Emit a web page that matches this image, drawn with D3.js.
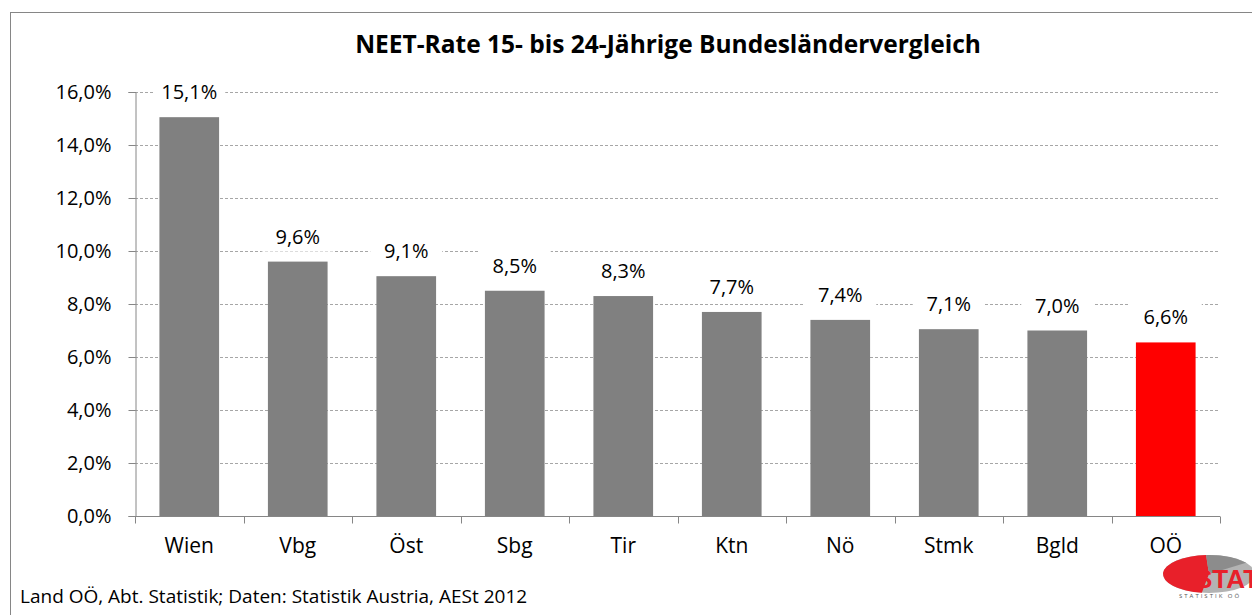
<!DOCTYPE html>
<html>
<head>
<meta charset="utf-8">
<script src="https://cdn.jsdelivr.net/npm/d3@7"></script>
<style>
  body { margin: 0; background: #fff; }
  svg { display: block; }
  text { font-family: "Open Sans", "Liberation Sans", sans-serif; fill: #000; }
</style>
</head>
<body>
<script>
// data
const regions = ["Wien", "Vbg", "Öst", "Sbg", "Tir", "Ktn", "Nö", "Stmk", "Bgld", "OÖ"];
const rates = [15.1, 9.6, 9.1, 8.5, 8.3, 7.7, 7.4, 7.1, 7.0, 6.6];
const rateBars = [15.05, 9.6, 9.05, 8.5, 8.3, 7.7, 7.4, 7.05, 7.0, 6.55];
const yTicks = [0, 2, 4, 6, 8, 10, 12, 14, 16];
const titleText = "NEET-Rate 15- bis 24-Jährige Bundesländervergleich";
const sourceText = "Land OÖ, Abt. Statistik; Daten: Statistik Austria, AESt 2012";

const W = 1252, H = 615;
const margin = {top: 92, right: 32, bottom: 100, left: 135};

const svg = d3.select("body").append("svg")
  .attr("width", W).attr("height", H);

// chart frame
svg.append("rect")
  .attr("x", 10.5).attr("y", 12.5)
  .attr("width", W + 20).attr("height", H + 20)
  .attr("fill", "none").attr("stroke", "#868686").attr("stroke-width", 1);

const x = d3.scaleBand().domain(regions).range([margin.left, W - margin.right]).paddingInner(0.45).paddingOuter(0.225);
const y = d3.scaleLinear().domain([0, 16]).range([516, margin.top]);
const fmt = v => d3.format(".1f")(v).replace(".", ",") + "%";

// gridlines
svg.append("g").selectAll("line").data(yTicks.slice(1)).enter().append("line")
  .attr("x1", margin.left).attr("x2", W - margin.right)
  .attr("y1", d => Math.round(y(d)) + 0.5).attr("y2", d => Math.round(y(d)) + 0.5)
  .attr("stroke", "#a6a6a6").attr("stroke-dasharray", "3,2").attr("stroke-width", 1);

// bars
svg.append("g").selectAll("rect").data(regions).enter().append("rect")
  .attr("x", d => x(d))
  .attr("y", (d, i) => y(rateBars[i]))
  .attr("width", x.bandwidth())
  .attr("height", (d, i) => y(0) - y(rateBars[i]))
  .attr("fill", d => d === "OÖ" ? "#ff0000" : "#808080");

// y axis
const yAxis = d3.axisLeft(y).tickValues(yTicks).tickSize(7).tickPadding(17)
  .tickFormat(d => fmt(d));
const gy = svg.append("g").attr("transform", "translate(" + (margin.left + 0.5) + ",0)").call(yAxis);
gy.select(".domain").attr("stroke", "#868686");
gy.selectAll(".tick line").attr("stroke", "#868686");
gy.selectAll(".tick text").style("font-size", "20px").attr("fill", "#000");

// x axis, ticks between categories
const step = x.step();
const gx = svg.append("g").attr("transform", "translate(0," + (Math.round(y(0)) + 0.5) + ")");
gx.append("line").attr("x1", margin.left).attr("x2", W - margin.right).attr("stroke", "#868686");
gx.selectAll(".tk").data(d3.range(regions.length + 1)).enter().append("line")
  .attr("x1", i => Math.round(margin.left + i * step) + 0.5)
  .attr("x2", i => Math.round(margin.left + i * step) + 0.5)
  .attr("y1", 0).attr("y2", 7).attr("stroke", "#868686");
gx.selectAll("text").data(regions).enter().append("text")
  .attr("x", d => x(d) + x.bandwidth() / 2)
  .attr("y", 36)
  .attr("text-anchor", "middle")
  .style("font-size", "21px")
  .text(d => d);

// data labels with white backing
const lbl = svg.append("g").selectAll("g").data(regions).enter().append("g")
  .attr("transform", (d, i) => "translate(" + (x(d) + x.bandwidth() / 2) + "," + (y(rateBars[i]) - 25) + ")");
lbl.append("rect").attr("x", -36).attr("y", -15).attr("width", 72).attr("height", 30).attr("fill", "#fff");
lbl.append("text").attr("text-anchor", "middle").attr("dy", "0.35em")
  .style("font-size", "20px").text((d, i) => fmt(rates[i]));

// title
svg.append("text").attr("x", 668).attr("y", 53).attr("text-anchor", "middle")
  .style("font-size", "24.5px").style("font-weight", "bold").text(titleText);

// source
svg.append("text").attr("x", 20).attr("y", 603).style("font-size", "19px").text(sourceText);

// logo
const logo = svg.append("g").attr("transform", "translate(1209,574)");
logo.append("ellipse").attr("rx", 46).attr("ry", 19).attr("fill", "#b3b3b3");
const arc = d3.arc().innerRadius(0).outerRadius(1);
logo.append("path").attr("transform", "scale(46,19)")
  .attr("d", arc({startAngle: -Math.PI * 0.95, endAngle: -Math.PI * 0.02})).attr("fill", "#e8202a");
logo.append("path").attr("transform", "scale(46,19)")
  .attr("d", arc({startAngle: -Math.PI * 0.02, endAngle: Math.PI * 0.3})).attr("fill", "#8c8c8c");
logo.append("text").attr("x", -14).attr("y", 14).style("font-size", "26px").style("font-weight", "bold")
  .style("font-family", "Liberation Sans, sans-serif").style("fill", "#e8202a").text("STAT");
logo.append("text").attr("x", -30).attr("y", 24).style("font-size", "6px").style("letter-spacing", "2px")
  .style("fill", "#555").text("STATISTIK OÖ");
</script>
</body>
</html>
